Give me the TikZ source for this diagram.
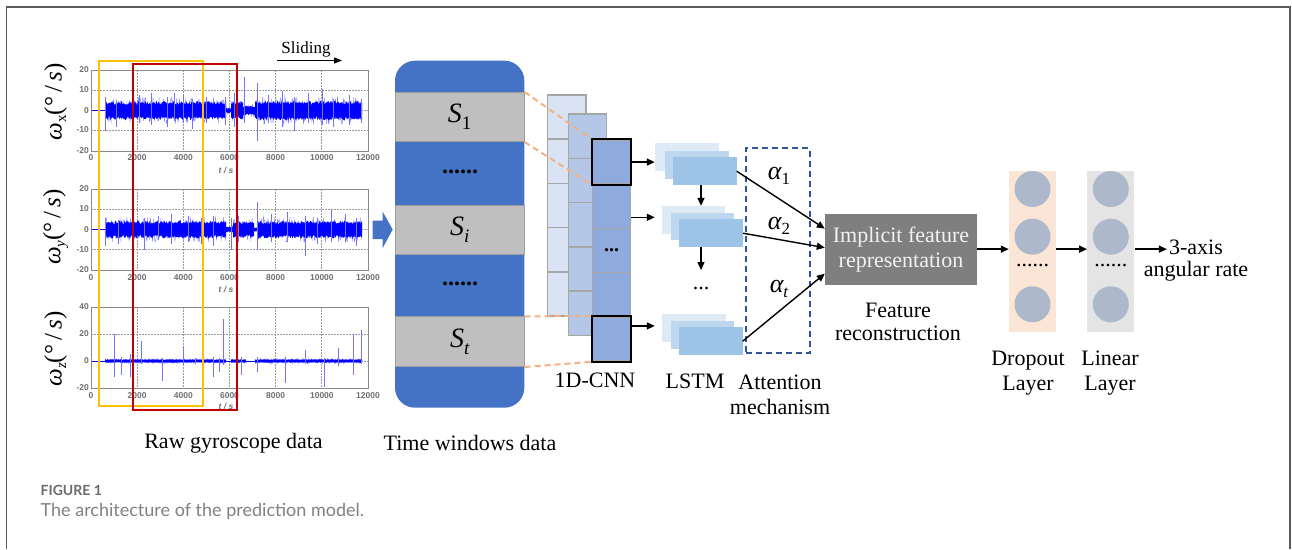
\documentclass[tikz,border=0pt]{standalone}
\usepackage{fontspec}
\setmainfont{Liberation Serif}
\setsansfont{Liberation Sans}
\newfontfamily\capfont{Lato}
\usetikzlibrary{arrows.meta}

\definecolor{frameg}{HTML}{5A5A5A}
\definecolor{twblue}{HTML}{4472C4}
\definecolor{bandg}{HTML}{BFBFBF}
\definecolor{bandrule}{HTML}{9C9C9C}
\definecolor{cnnA}{HTML}{DAE3F3}
\definecolor{cnnB}{HTML}{B4C7E7}
\definecolor{cnnC}{HTML}{8FAADC}
\definecolor{cellrule}{HTML}{A6A6A6}
\definecolor{lstmA}{HTML}{DEEBF7}
\definecolor{lstmB}{HTML}{BDD7EE}
\definecolor{lstmC}{HTML}{9DC3E6}
\definecolor{attblue}{HTML}{2F5597}
\definecolor{featg}{HTML}{7F7F7F}
\definecolor{feattext}{HTML}{F2F2F2}
\definecolor{dropfill}{HTML}{FBE5D6}
\definecolor{linfill}{HTML}{E4E4E4}
\definecolor{neuron}{HTML}{ADB9CA}
\definecolor{winyellow}{HTML}{FFC000}
\definecolor{winred}{HTML}{C00000}
\definecolor{dashor}{HTML}{F4B183}
\definecolor{tickg}{HTML}{707070}
\definecolor{gridg}{HTML}{9A9A9A}
\definecolor{axisg}{HTML}{8A8A8A}
\definecolor{sigblue}{HTML}{0000FF}
\definecolor{capg}{HTML}{6B6B6B}

\newcommand\pxsize[2]{\fontsize{#1}{#2}\selectfont}
% angular-rate axis title
\newcommand\omlab[1]{{\itshape ω}\raisebox{-0.4ex}{\pxsize{15}{15}#1}(°\,/\,{\itshape s})}
% window label S with a lowered index
\newcommand\winlab[1]{{\itshape S}\raisebox{-0.55ex}{\pxsize{19}{19}#1}}
% attention weight with its index
\newcommand\attw[1]{{\itshape α}\raisebox{-0.45ex}{\pxsize{17}{17}#1}}
% noisy gyro trace: light outliers plus a solid jagged core
\newcommand\gyroband[5]{%
  \draw[sigl] plot[domain=#1:#2,samples=#5] (\x,{#3+1.4*#4*rand});
  \fill[sigblue] plot[domain=#1:#2,samples=#5] (\x,{#3-#4*(0.6+0.4*rnd)})
    -- plot[domain=#2:#1,samples=#5] (\x,{#3+#4*(0.6+0.4*rnd)}) -- cycle;
}
% isolated peaks: time / up / down in axis units
\newcommand\gyrospikes[3]{%
  \foreach \tt/\uu/\dd in {#3}{%
    \draw[spk] ({91+0.023083*\tt},{#1-#2*\uu}) -- ({91+0.023083*\tt},{#1+#2*\dd});}
}

\begin{document}
\begin{tikzpicture}[x=1pt,y=-1pt,
  txt/.style={font=\rmfamily\pxsize{22}{25}, inner sep=0, align=center},
  tick/.style={font=\sffamily\bfseries\pxsize{8.5}{9}, text=tickg, inner sep=0},
  grid/.style={gridg, line width=0.8pt, dash pattern=on 1.5pt off 1.5pt},
  axisframe/.style={axisg, line width=1pt},
  sigl/.style={sigblue!50, line width=0.45pt},
  spk/.style={sigblue!55, line width=0.7pt},
  base/.style={sigblue, line width=1pt},
  arr/.style={-{Triangle[length=8pt,width=7pt]}, line width=1.4pt, black},
  band/.style={fill=bandg, draw=bandrule, line width=0.6pt, inner sep=0,
    minimum width=129.3pt},
  cnncell/.style={draw=cellrule, line width=1.5pt, inner sep=0},
  lstm/.style={inner sep=0, minimum width=63.5pt, minimum height=27.8pt},
  neur/.style={circle, fill=neuron, minimum size=36pt, inner sep=0},
  orangedash/.style={dashor, line width=2pt, dash pattern=on 6pt off 4pt},
  winbox/.style={line width=2pt}
]
\useasboundingbox (0,0) rectangle (1292,549);
\fill[white] (0,0) rectangle (1292,549);
\pgfmathsetseed{11}

% outer frame
\draw[frameg, line width=1.5pt] (6.5,549) -- (6.5,7) -- (1290,7) -- (1290,549);

% ---------------- gyroscope traces ----------------
% grids
\foreach \ytop/\lines in {70/{90,110.5,130}, 189/{209,229.5,249.5}, 307/{334,361}}{
  \foreach \t in {2000,4000,...,10000}
    \draw[grid] ({91+0.023083*\t},\ytop) -- ++(0,81);
  \foreach \yy in \lines
    \draw[grid] (91,\yy) -- (368,\yy);
}
% x-axis
\draw[base] (91,110.5) -- (105,110.5);
\gyroband{105}{226}{110.5}{9.5}{200}
\gyroband{226}{231}{110.5}{2.5}{9}
\gyroband{231}{243}{110.5}{9}{20}
\gyroband{243}{255}{110.5}{5}{20}
\gyroband{255}{362}{110.5}{10}{180}
\gyrospikes{110.5}{2}{600/7/10, 1100/5/8, 1850/12/4, 2100/8/6, 2600/9/7, 3300/7/8, 3600/9/5,
  4000/8/6, 4400/6/9, 5000/7/6, 5800/7/7, 6200/9/8, 6650/17/6, 7200/14/15, 7700/8/6,
  8300/10/8, 8800/7/10, 9400/9/6, 10000/11/7, 10500/6/8, 11200/8/7, 11700/6/6}
% y-axis
\draw[base] (91,229.5) -- (105,229.5);
\gyroband{105}{226}{229.5}{9}{200}
\gyroband{226}{233}{229.5}{3}{12}
\gyroband{233}{254}{229.5}{8.5}{35}
\gyroband{254}{257}{229.5}{2}{6}
\gyroband{257}{362}{229.5}{9}{180}
\gyrospikes{229.5}{2}{600/6/8, 1200/5/7, 1850/11/7, 2300/6/10, 2900/7/5, 3500/8/7, 4200/7/6,
  4800/6/7, 5300/7/8, 6100/6/10, 6400/7/6, 7200/14/10, 7800/8/6, 8500/9/6, 9300/7/13,
  9800/6/7, 10400/10/6, 11000/8/6, 11500/6/8}
% z-axis
\draw[base] (91,361) -- (362,361);
\gyroband{105}{226}{361}{1.8}{200}
\gyroband{231}{246}{361}{1.8}{25}
\gyroband{255}{362}{361}{1.8}{180}
\gyrospikes{361}{1.35}{1000/20/12, 1300/3/10, 1700/5/12, 2200/15/2, 3100/2/15, 4000/11/3,
  4500/2/2, 5300/3/12, 5550/2/8, 5750/31/3, 6500/3/10, 7200/3/8, 8400/3/16, 9300/8/2,
  10100/2/19, 10700/10/4, 11350/20/10, 11700/23/2}

% axes frames and tick labels
\foreach \ytop in {70,189,307}
  \draw[axisframe] (91,\ytop) rectangle (368,\ytop+81);
\foreach \v/\yy in {20/70,10/90,0/110.5,-10/130,-20/151}
  \node[tick, anchor=east] at (89,\yy) {\v};
\foreach \v/\yy in {20/189,10/209,0/229.5,-10/249.5,-20/270}
  \node[tick, anchor=east] at (89,\yy) {\v};
\foreach \v/\yy in {40/307,20/334,0/361,-20/388}
  \node[tick, anchor=east] at (89,\yy) {\v};
\foreach \ly/\ty in {158/171, 278/289.5, 396/406.5}{
  \foreach \t in {0,2000,...,12000}
    \node[tick] at ({91+0.023083*\t},\ly) {\t};
  \node[tick, font=\sffamily\bfseries\itshape\pxsize{8.5}{9}] at (226,\ty) {t / s};
}
\node[txt, font=\rmfamily\pxsize{25}{25}, rotate=90] (labx) at (55.5,102) {\omlab{x}};
\node[txt, font=\rmfamily\pxsize{25}{25}, rotate=90] (laby) at (55.5,227) {\omlab{\itshape y}};
\node[txt, font=\rmfamily\pxsize{25}{25}, rotate=90] (labz) at (55.5,349) {\omlab{\itshape z}};

% sliding windows
\draw[winbox, winyellow] (99,61) rectangle (203,406);
\draw[winbox, winred] (133,64) rectangle (237,410);
\node[font=\rmfamily\pxsize{17}{19}, inner sep=0] (slide) at (306,49) {Sliding};
\coordinate (slA) at (277,60.5);
\coordinate (slB) at (342,60.5);
\draw[-{Triangle[length=8pt,width=6pt]}, line width=1.3pt] (slA) -- (slB);

\node[txt] (rawlab) at (233.5,443) {Raw gyroscope data};

% block arrow into the windows
\fill[twblue] (372.7,220.7) -- (382.7,220.7) -- (382.7,211.7) -- (392.7,229.5)
  -- (382.7,248) -- (382.7,239) -- (372.7,239) -- cycle;

% ---------------- time windows ----------------
\node[fill=twblue, rounded corners=20pt, minimum width=129.3pt, minimum height=347pt,
  inner sep=0] (tw) at (459.65,234.2) {};
\node[band, minimum height=49.4pt] (s1) at (459.65,117) {};
\node[band, minimum height=49pt] (si) at (459.65,229.5) {};
\node[band, minimum height=50pt] (st) at (459.65,341.7) {};
\node[font=\rmfamily\pxsize{28}{30}, inner sep=0] at (s1) {\winlab{1}};
\node[font=\rmfamily\pxsize{28}{30}, inner sep=0] at (si) {\winlab{\itshape i}};
\node[font=\rmfamily\pxsize{28}{30}, inner sep=0] at (st) {\winlab{\itshape t}};
\node[font=\rmfamily\bfseries\pxsize{24}{24}, inner sep=0] (twdotsA) at (460,172) {......};
\node[font=\rmfamily\bfseries\pxsize{24}{24}, inner sep=0] (twdotsB) at (460,284) {......};
\node[txt] (twlab) at (470,443) {Time windows data};

% ---------------- 1D-CNN ----------------
\foreach \i in {0,...,4}
  \node[cnncell, fill=cnnA, minimum width=38.7pt, minimum height=44.2pt]
    (ca\i) at (566.65,{117.1+44.2*\i}) {};
\foreach \i in {0,...,4}
  \node[cnncell, fill=cnnB, minimum width=38.4pt, minimum height=44.3pt]
    (cb\i) at (587.5,{136.15+44.3*\i}) {};
\foreach \i in {0,...,4}
  \node[cnncell, fill=cnnC, minimum width=38pt, minimum height=44.2pt]
    (cc\i) at (611.7,{162.1+44.2*\i}) {};
\node[font=\rmfamily\bfseries\pxsize{20}{20}, inner sep=0] (cnndots) at (cc2) {...};

\draw[orangedash] (s1.north east) -- (cc0.north west);
\draw[orangedash] (s1.south east) -- (cc0.south west);
\draw[orangedash] (st.north east) -- (cc4.north west);
\draw[orangedash] (st.south east) -- (cc4.south west);
\draw[black, line width=2pt] (cc0.north west) rectangle (cc0.south east);
\draw[black, line width=2pt] (cc4.north west) rectangle (cc4.south east);
\node[txt] (cnnlab) at (595,380) {1D-CNN};

% ---------------- LSTM ----------------
\node[lstm, fill=lstmA] (la1) at (686.75,157.2) {};
\node[lstm, fill=lstmB] (lb1) at (696.75,164.6) {};
\node[lstm, fill=lstmC] (lc1) at (704.75,171.2) {};
\node[lstm, fill=lstmA] (la2) at (693.45,219.9) {};
\node[lstm, fill=lstmB] (lb2) at (702.3,226.5) {};
\node[lstm, fill=lstmC] (lc2) at (711.05,233.2) {};
\node[lstm, fill=lstmA] (la3) at (693.75,328.2) {};
\node[lstm, fill=lstmB] (lb3) at (702.3,334.7) {};
\node[lstm, fill=lstmC] (lc3) at (710.75,341.2) {};

\draw[arr] (cc0.east) -- (cc0.east -| la1.west);
\draw[arr] ([yshift=-11pt]cc1.east) -- ([yshift=-11pt]cc1.east -| la1.west);
\draw[arr] ([yshift=13pt]cc4.east) -- ([yshift=13pt]cc4.east -| la1.west);

\draw[arr] ([xshift=-3.75pt]lc1.south) -- ([xshift=-3.75pt]lc1.south |- la2.north);
\coordinate (lstmgap) at (701,270);
\draw[arr] ([xshift=-10.05pt]lc2.south) -- (lstmgap);
\node[font=\rmfamily\pxsize{22}{22}, inner sep=0] (lstmdots) at (701,289) {...};
\node[txt] (lstmlab) at (695,381.7) {LSTM};

% ---------------- attention ----------------
\node[draw=attblue, line width=2pt, dash pattern=on 6pt off 4pt, inner sep=0,
  minimum width=64pt, minimum height=204.4pt] (att) at (778,250.5) {};
\node[txt] (attlab) at (780,395) {Attention\\mechanism};

\node[fill=featg, text=feattext, font=\rmfamily\pxsize{22}{25}, align=center, inner sep=0,
  minimum width=152pt, minimum height=70.7pt] (imp) at (901,249.65)
  {Implicit feature\\representation};
\node[font=\rmfamily\pxsize{22}{23.5}, align=center, inner sep=0] (recon) at (898,321.7)
  {Feature\\reconstruction};

\draw[arr] (lc1.east) -- ([yshift=21pt]imp.west);
\draw[arr] (lc2.east) -- ([yshift=2pt]imp.west);
\draw[arr] (lc3.east) -- ([yshift=-24pt]imp.west);
\node[font=\rmfamily\pxsize{26}{26}, inner sep=0] (al1) at (779,176) {\attw{1}};
\node[font=\rmfamily\pxsize{26}{26}, inner sep=0] (al2) at (779,226) {\attw{2}};
\node[font=\rmfamily\pxsize{26}{26}, inner sep=0] (alt) at (779,289) {\attw{\itshape t}};

% ---------------- output layers ----------------
\node[fill=dropfill, inner sep=0, minimum width=47pt, minimum height=161pt]
  (drop) at (1032.5,251) {};
\node[fill=linfill, inner sep=0, minimum width=47pt, minimum height=161pt]
  (lin) at (1110.8,251) {};
\foreach \yy [count=\k] in {189,236.7,304.3}{
  \node[neur] (dn\k) at (1032.5,\yy) {};
  \node[neur] (ln\k) at (1110.8,\yy) {};
}
\node[font=\rmfamily\pxsize{22}{22}, inner sep=0] (ddots) at (1032.5,266) {......};
\node[font=\rmfamily\pxsize{22}{22}, inner sep=0] (ldots) at (1110.8,266) {......};

\node[font=\rmfamily\pxsize{22}{22}, inner sep=0] (out1) at (1196,247.5) {3-axis};
\node[font=\rmfamily\pxsize{22}{22}, inner sep=0] (out2) at (1196,271.5) {angular rate};

\draw[arr] ([yshift=0.5pt]imp.east) -- ([yshift=0.5pt]imp.east -| drop.west);
\draw[arr] ([yshift=0.5pt]imp.east -| drop.east) -- ([yshift=0.5pt]imp.east -| lin.west);
\draw[arr] ([yshift=0.5pt]imp.east -| lin.east) -- ([xshift=-2pt,yshift=0.5pt]imp.east -| out1.west);

\node[txt] (droplab) at (1028,373) {Dropout\\Layer};
\node[txt] (linlab) at (1110,373) {Linear\\Layer};

% ---------------- caption ----------------
\node[anchor=west, font=\capfont\bfseries\pxsize{14}{16}, text=capg, inner sep=0]
  (figno) at (40.5,490.7) {FIGURE 1};
\node[anchor=west, font=\capfont\pxsize{18}{20}, text=capg!85, inner sep=0]
  (figcap) at (40.5,511.7) {The architecture of the prediction model.};
\end{tikzpicture}
\end{document}
